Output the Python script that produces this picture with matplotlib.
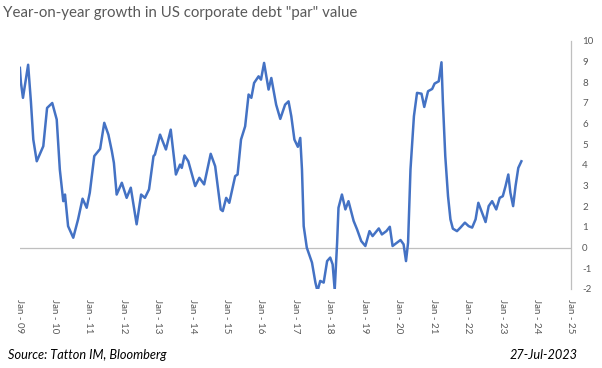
import numpy as np
import matplotlib.pyplot as plt

# -----------------------------
# DADOS
# -----------------------------

anos = [2009.00, 2009.03, 2009.09, 2009.24, 2009.32, 2009.39, 2009.49, 2009.68, 2009.79, 2009.94,
        2010.07, 2010.16, 2010.26, 2010.31, 2010.40, 2010.55, 2010.69, 2010.82, 2010.94,
        2011.03, 2011.16, 2011.33, 2011.45, 2011.57, 2011.67, 2011.73, 2011.81, 2011.96,
        2012.10, 2012.22, 2012.39, 2012.52, 2012.63, 2012.75, 2012.88, 2012.92,
        2013.07, 2013.24, 2013.38, 2013.53, 2013.65, 2013.70, 2013.78, 2013.89,
        2014.09, 2014.21, 2014.35, 2014.54, 2014.67, 2014.83, 2014.89, 2014.99,
        2015.08, 2015.25, 2015.32, 2015.42, 2015.54, 2015.64, 2015.72, 2015.80, 2015.93,
        2016.00, 2016.09, 2016.22, 2016.30, 2016.44, 2016.56, 2016.70, 2016.80, 2016.88, 2016.97,
        2017.07, 2017.14, 2017.19, 2017.24, 2017.33, 2017.48, 2017.58, 2017.64, 2017.72, 2017.82, 2017.92,
        2018.01, 2018.08, 2018.14, 2018.21, 2018.25, 2018.35, 2018.45, 2018.54, 2018.69, 2018.79, 2018.91,
        2019.03, 2019.15, 2019.24, 2019.42, 2019.51, 2019.64, 2019.74, 2019.82,
        2020.05, 2020.14, 2020.21, 2020.27, 2020.34, 2020.44, 2020.53, 2020.66, 2020.74, 2020.85, 2020.97,
        2021.04, 2021.16, 2021.24, 2021.28, 2021.35, 2021.43, 2021.50, 2021.57, 2021.69, 2021.79, 2021.92,
        2022.03, 2022.13, 2022.23, 2022.31, 2022.40, 2022.52, 2022.61, 2022.71, 2022.83, 2022.93,
        2023.02, 2023.10, 2023.18, 2023.24, 2023.32, 2023.39, 2023.47, 2023.56]

crescimento = [8.7, 8.0, 7.25, 8.85, 7.08, 5.23, 4.18, 4.91, 6.76, 7.0,
               6.2, 3.78, 2.25, 2.57, 1.04, 0.48, 1.37, 2.37, 1.93,
               2.66, 4.43, 4.78, 6.04, 5.47, 4.67, 4.1, 2.57, 3.14,
               2.41, 2.9, 1.13, 2.57, 2.41, 2.82, 4.43, 4.5,
               5.47, 4.75, 5.71, 3.54, 4.02, 3.86, 4.46, 4.18,
               2.98, 3.38, 3.06, 4.54, 3.94, 1.85, 1.77, 2.41,
               2.17, 3.46, 3.54, 5.23, 5.87, 7.41, 7.25, 7.97, 8.29,
               8.13, 8.94, 7.65, 8.21, 6.92, 6.23, 6.92, 7.08, 6.36, 5.23,
               4.88, 5.31, 3.78, 1.04, 0.0, -0.72, -1.69, -2.1, -1.61, -1.69, -0.65,
               -0.48, -0.81, -2.05, 0.24, 1.93, 2.57, 1.85, 2.25, 1.29, 0.88, 0.32,
               0.08, 0.8, 0.56, 0.93, 0.64, 0.8, 1.01, 0.08,
               0.37, 0.16, -0.65, 0.24, 3.78, 6.36, 7.49, 7.45, 6.81, 7.57, 7.68,
               7.94, 8.05, 8.97, 7.08, 4.43, 2.49, 1.37, 0.92, 0.8, 0.97, 1.21,
               1.04, 0.97, 1.37, 2.17, 1.77, 1.24, 2.01, 2.25, 1.85, 2.41,
               2.49, 2.98, 3.54, 2.66, 2.01, 2.98, 3.86, 4.18]

anos_ticks = list(range(2009, 2026))
rotulos_x = ["Jan - %02d" % (a % 100) for a in anos_ticks]
valores_y = list(range(-2, 11))

# -----------------------------
# GRÁFICO
# -----------------------------

plt.rcParams['font.family'] = ['Lato', 'DejaVu Sans']
cinza = "#595959"

fig = plt.figure(figsize=(6.02, 3.68), dpi=100)
ax = fig.add_axes([0.033, 0.2147, 0.9155, 0.6739])

ax.plot(anos, crescimento, color="#4472C4", linewidth=1.8)
ax.axhline(0, color="#BFBFBF", linewidth=0.9, zorder=0)

ax.set_xlim(2009, 2025)
ax.set_ylim(-2, 10)

ax.set_xticks(anos_ticks)
ax.set_xticklabels(rotulos_x, rotation=-90, fontsize=7, color=cinza)
ax.set_yticks(valores_y)
ax.set_yticklabels([str(v) for v in valores_y], fontsize=7, color=cinza)

ax.yaxis.tick_right()
ax.tick_params(axis="x", length=0, pad=7)
ax.tick_params(axis="y", length=0, pad=8)

for lado in ["top", "left", "bottom"]:
    ax.spines[lado].set_visible(False)
ax.spines["right"].set_color("#BFBFBF")
ax.spines["right"].set_linewidth(0.9)

fig.text(0.005, 0.965, 'Year-on-year growth in US corporate debt "par" value',
         fontsize=10.8, color=cinza, va="center", ha="left")
fig.text(0.014, 0.035, "Source: Tatton IM, Bloomberg", fontsize=9.2,
         style="italic", color="black", va="center", ha="left")
fig.text(0.96, 0.035, "27-Jul-2023", fontsize=9.2,
         style="italic", color="black", va="center", ha="right")

fig.savefig("out.png", dpi=100)
